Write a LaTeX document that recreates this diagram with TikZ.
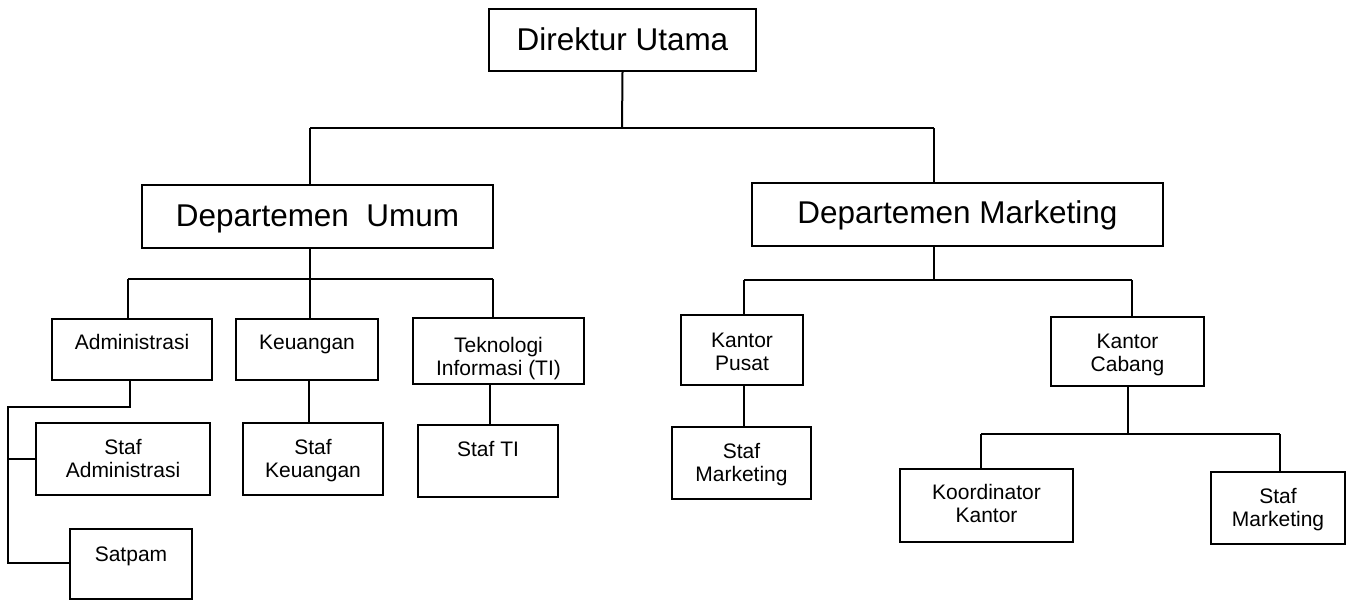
\documentclass[tikz,border=0pt]{standalone}
\usepackage{fontspec}
\setmainfont{Liberation Sans}
\begin{document}
\begin{tikzpicture}[x=0.75pt,y=-0.75pt,
  box/.style={draw=black,line width=1.5pt,rectangle,inner sep=0pt},
  conn/.style={draw=black,line width=1.5pt},
  small/.style={font=\fontsize{15.75}{17.25}\selectfont,align=center,inner sep=0pt,anchor=base},
  big/.style={font=\fontsize{23.6}{28}\selectfont,align=center,inner sep=0pt,anchor=base}]
\useasboundingbox[fill=white] (0,0) rectangle (1346,600);
% boxes
\node[box,minimum width=267*0.75pt,minimum height=62*0.75pt] (dir) at (622.5,40) {};
\node[box,minimum width=351*0.75pt,minimum height=63*0.75pt] (umum) at (317.5,216.5) {};
\node[box,minimum width=411*0.75pt,minimum height=63*0.75pt] (mkt) at (957.5,214.5) {};
\node[box,minimum width=160*0.75pt,minimum height=61*0.75pt] (adm) at (132,349.5) {};
\node[box,minimum width=142*0.75pt,minimum height=61*0.75pt] (keu) at (307,349.5) {};
\node[box,minimum width=171*0.75pt,minimum height=66*0.75pt] (ti) at (498.5,351) {};
\node[box,minimum width=174*0.75pt,minimum height=72*0.75pt] (sadm) at (123,459) {};
\node[box,minimum width=140*0.75pt,minimum height=72*0.75pt] (skeu) at (313,459) {};
\node[box,minimum width=140*0.75pt,minimum height=72*0.75pt] (sti) at (488,461) {};
\node[box,minimum width=122*0.75pt,minimum height=70*0.75pt] (sat) at (131,564) {};
\node[box,minimum width=122*0.75pt,minimum height=70*0.75pt] (kp) at (742,350) {};
\node[box,minimum width=153*0.75pt,minimum height=69*0.75pt] (kc) at (1127.5,351.5) {};
\node[box,minimum width=139*0.75pt,minimum height=72*0.75pt] (smk1) at (741.5,463) {};
\node[box,minimum width=173*0.75pt,minimum height=73*0.75pt] (koor) at (986.5,505.5) {};
\node[box,minimum width=134*0.75pt,minimum height=72*0.75pt] (smk2) at (1278,508) {};
% texts (anchor=base is the baseline of the last line)
\node[big] (tdir) at (622.5,50) {Direktur Utama};
\node[big] (tumum) at (317.5,226) {Departemen\ \ Umum};
\node[big] (tmkt) at (957.5,223.5) {Departemen Marketing};
\node[small] (tadm) at (132,349) {Administrasi};
\node[small] (tkeu) at (307,349) {Keuangan};
\node[small] (tti) at (498.5,375) {Teknologi\\Informasi (TI)};
\node[small] (tsadm) at (123,477) {Staf\\Administrasi};
\node[small] (tskeu) at (313,477) {Staf\\Keuangan};
\node[small] (tsti) at (488,456) {Staf TI};
\node[small] (tsat) at (131,561) {Satpam};
\node[small] (tkp) at (742,370) {Kantor\\Pusat};
\node[small] (tkc) at (1127.5,371) {Kantor\\Cabang};
\node[small] (tsmk1) at (741.5,481) {Staf\\Marketing};
\node[small] (tkoor) at (986.5,522) {Koordinator\\Kantor};
\node[small] (tsmk2) at (1278,526) {Staf\\Marketing};
% junctions
\coordinate (j1) at (622,128);
\coordinate (j1l) at (310,128);
\coordinate (j1r) at (934,128);
\coordinate (j2) at (310,279);
\coordinate (j2l) at (128,279);
\coordinate (j2r) at (493,279);
\coordinate (j3) at (934,280);
\coordinate (j3l) at (744,280);
\coordinate (j3r) at (1132,280);
\coordinate (j4) at (130,407);
\coordinate (j4l) at (8,407);
\coordinate (j4b) at (8,563);
\coordinate (j5) at (1128,434);
\coordinate (j5l) at (981,434);
\coordinate (j5r) at (1280,434);
% connectors
\draw[conn] (dir.south) -- (j1);
\draw[conn] (j1l) -- (j1r);
\draw[conn] (j1l) -- (j1l |- umum.north);
\draw[conn] (j1r) -- (j1r |- mkt.north);
\draw[conn] (j2 |- umum.south) -- (j2);
\draw[conn] (j2l) -- (j2r);
\draw[conn] (j2l) -- (j2l |- adm.north);
\draw[conn] (j2) -- (j2 |- keu.north);
\draw[conn] (j2r) -- (j2r |- ti.north);
\draw[conn] (j3 |- mkt.south) -- (j3);
\draw[conn] (j3l) -- (j3r);
\draw[conn] (j3l) -- (j3l |- kp.north);
\draw[conn] (j3r) -- (j3r |- kc.north);
\draw[conn] (j4 |- adm.south) -- (j4) -- (j4l) -- (j4b) -- (sat.west |- j4b);
\draw[conn] (j4l |- sadm.west) -- (sadm.west);
\draw[conn] (309,0 |- keu.south) -- (309,0 |- skeu.north);
\draw[conn] (490,0 |- ti.south) -- (490,0 |- sti.north);
\draw[conn] (j3l |- kp.south) -- (j3l |- smk1.north);
\draw[conn] (j5 |- kc.south) -- (j5);
\draw[conn] (j5l) -- (j5r);
\draw[conn] (j5l) -- (j5l |- koor.north);
\draw[conn] (j5r) -- (j5r |- smk2.north);
\end{tikzpicture}
\end{document}
